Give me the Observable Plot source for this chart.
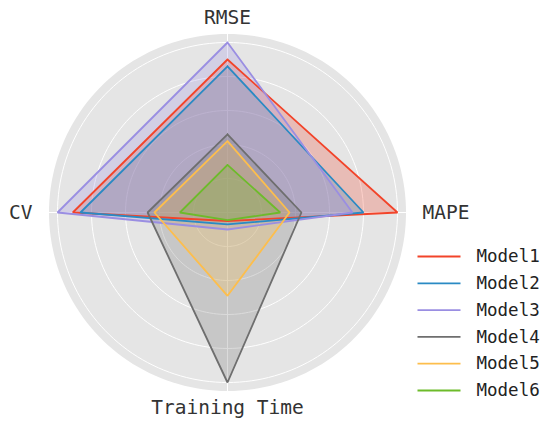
<!DOCTYPE html>
<html>
<head>
<meta charset="utf-8">
<script src="https://cdn.jsdelivr.net/npm/d3@7"></script>
<script src="https://cdn.jsdelivr.net/npm/@observablehq/plot@0.6"></script>
<style>
  html, body { margin: 0; padding: 0; background: #fff; }
  svg { display: block; }
</style>
</head>
<body>
<div id="chart"></div>
<script>
// ---- data ----
const axes = ["RMSE", "MAPE", "Training Time", "CV"]; // clockwise from top
const models = ["Model1", "Model2", "Model3", "Model4", "Model5", "Model6"];
const colors = ["#F2442A", "#2A8AC4", "#9A8EE2", "#6E6E6E", "#FDBE4C", "#6DBB2A"];
const rmse = [0.90, 0.86, 1.00, 0.46, 0.42, 0.28];
const mape = [1.00, 0.80, 0.735, 0.435, 0.365, 0.31];
const trainingTime = [0.05, 0.07, 0.10, 1.00, 0.49, 0.045];
const cv = [0.91, 0.865, 1.00, 0.47, 0.43, 0.28];
const gridLevels = [0.2, 0.4, 0.6, 0.8, 1.0];
const rMax = 1.05;

// ---- geometry helpers ----
const angleOf = i => Math.PI / 2 - i * (Math.PI / 2); // top, right, bottom, left
const series = [rmse, mape, trainingTime, cv];
const polyRows = [];
models.forEach((m, mi) => {
  for (let k = 0; k <= axes.length; k++) {
    const ai = k % axes.length;
    const v = series[ai][mi];
    const a = angleOf(ai);
    polyRows.push({model: m, x: v * Math.cos(a), y: v * Math.sin(a)});
  }
});

function ring(r, id) {
  const pts = [];
  const n = 180;
  for (let i = 0; i <= n; i++) {
    const t = (i / n) * 2 * Math.PI;
    pts.push({id, x: r * Math.cos(t), y: r * Math.sin(t)});
  }
  return pts;
}
const bg = ring(rMax, "bg");
const gridRows = gridLevels.flatMap(l => ring(l, "g" + l));
const spokes = axes.map((a, i) => ({x1: 0, y1: 0, x2: rMax * Math.cos(angleOf(i)), y2: rMax * Math.sin(angleOf(i))}));

const labelR = 1.147;
const labels = axes.map((a, i) => ({
  label: a,
  x: labelR * Math.cos(angleOf(i)),
  y: labelR * Math.sin(angleOf(i)),
  anchor: i === 1 ? "start" : i === 3 ? "end" : "middle"
}));

// legend layout (data units)
const legend = models.map((m, i) => ({
  model: m,
  y: (212 - (256 + 26.8 * i)) / 170
}));

const W = 550, H = 424, cx = 227, cy = 212, k = 170;
const fontFamily = "'DejaVu Sans Mono', 'Liberation Mono', monospace";

const chart = Plot.plot({
  width: W,
  height: H,
  margin: 0,
  x: {domain: [-cx / k, (W - cx) / k], axis: null},
  y: {domain: [-(H - cy) / k, cy / k], axis: null},
  color: {domain: models, range: colors},
  marks: [
    Plot.line(bg, {x: "x", y: "y", fill: "#E5E5E5", stroke: "none"}),
    Plot.line(gridRows, {x: "x", y: "y", z: "id", stroke: "#ffffff", strokeWidth: 1}),
    Plot.link(spokes, {x1: "x1", y1: "y1", x2: "x2", y2: "y2", stroke: "#ffffff", strokeWidth: 1}),
    Plot.line(polyRows, {x: "x", y: "y", z: "model", fill: "model", fillOpacity: 0.25, stroke: "none"}),
    Plot.line(polyRows, {x: "x", y: "y", z: "model", stroke: "model", strokeWidth: 1.8, strokeLinejoin: "miter"}),
    Plot.text(labels.filter(d => d.anchor === "middle"), {x: "x", y: "y", text: "label", textAnchor: "middle", fontSize: 19.5, fontFamily, fill: "#333"}),
    Plot.text(labels.filter(d => d.anchor === "start"), {x: "x", y: "y", text: "label", textAnchor: "start", fontSize: 19.5, fontFamily, fill: "#333"}),
    Plot.text(labels.filter(d => d.anchor === "end"), {x: "x", y: "y", text: "label", textAnchor: "end", fontSize: 19.5, fontFamily, fill: "#333"}),
    Plot.link(legend, {x1: (417 - cx) / k, x2: (460 - cx) / k, y1: "y", y2: "y", stroke: "model", strokeWidth: 1.8}),
    Plot.text(legend, {x: (476 - cx) / k, y: "y", text: "model", textAnchor: "start", fontSize: 17.5, fontFamily, fill: "#222"})
  ]
});
document.getElementById("chart").appendChild(chart);
</script>
</body>
</html>
